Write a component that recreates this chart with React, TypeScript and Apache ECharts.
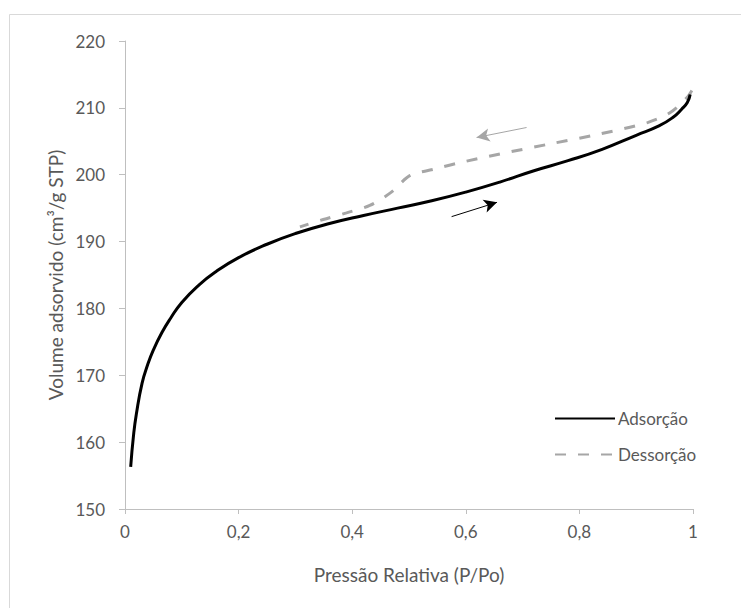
import React, { useEffect, useRef } from "react";
import * as echarts from "echarts";

// Adsorption branch (P/Po, volume)
const adsX = [0.01, 0.015, 0.02, 0.03, 0.04, 0.05, 0.065, 0.08, 0.1, 0.13, 0.16, 0.2, 0.25, 0.3, 0.36, 0.42, 0.48, 0.54, 0.6, 0.66, 0.72, 0.78, 0.84, 0.9, 0.94, 0.965, 0.98, 0.99, 0.995];
const adsY = [156.3, 161.0, 164.2, 168.8, 171.6, 173.8, 176.4, 178.5, 180.9, 183.5, 185.5, 187.6, 189.6, 191.2, 192.7, 193.9, 195.0, 196.1, 197.4, 198.9, 200.6, 202.1, 203.8, 205.9, 207.3, 208.6, 209.8, 210.8, 212.0];

// Desorption branch
const desX = [0.998, 0.989, 0.96, 0.92, 0.836, 0.748, 0.66, 0.584, 0.543, 0.502, 0.469, 0.431, 0.39, 0.349, 0.308];
const desY = [212.6, 211.5, 209.3, 207.8, 206.1, 204.6, 203.1, 201.7, 200.8, 199.9, 197.4, 195.4, 194.3, 193.3, 192.2];

// Direction arrows [x1, y1, x2, y2]
const arrowDes = [0.707, 207.06, 0.619, 205.57];
const arrowAds = [0.575, 193.73, 0.655, 195.87];

const yTicks = { min: 150, max: 220, interval: 10 };
const xTicks = { min: 0, max: 1, interval: 0.2 };

const seriesNames = ["Adsorção", "Dessorção"];
const FONT = "Lato, 'Open Sans', sans-serif";

export default function App() {
  const ref = useRef<HTMLDivElement>(null);
  useEffect(() => {
    if (!ref.current) return;
    const chart = echarts.init(ref.current, null, { renderer: "svg" });
    const axisColor = "#bfbfbf";
    const textColor = "#595959";
    chart.setOption({
      animation: false,
      backgroundColor: "#ffffff",
      textStyle: { fontFamily: FONT },
      graphic: [
        {
          type: "rect",
          shape: { x: 9.5, y: 14.5, width: 800, height: 700 },
          style: { fill: "none", stroke: "#d9d9d9", lineWidth: 1 },
          silent: true,
          z: -1,
        },
      ],
      grid: { left: 125, right: 48, top: 41, bottom: 99 },
      legend: {
        orient: "vertical",
        left: 549,
        top: 405,
        itemWidth: 60,
        itemHeight: 14,
        itemGap: 19,
        itemStyle: { opacity: 0 },
        textStyle: { color: textColor, fontSize: 17, fontFamily: FONT, padding: [0, 0, 0, -2] },
        data: seriesNames,
      },
      xAxis: {
        type: "value",
        min: xTicks.min,
        max: xTicks.max,
        interval: xTicks.interval,
        name: "Pressão Relativa (P/Po)",
        nameLocation: "middle",
        nameGap: 56,
        nameTextStyle: { color: textColor, fontSize: 19, fontFamily: FONT },
        axisLine: { show: true, lineStyle: { color: axisColor, width: 1 } },
        axisTick: { show: true, length: 5, lineStyle: { color: axisColor } },
        splitLine: { show: false },
        axisLabel: {
          color: textColor,
          fontSize: 17,
          fontFamily: FONT,
          margin: 14,
          formatter: (v: number) => String(Math.round(v * 10) / 10).replace(".", ","),
        },
      },
      yAxis: {
        type: "value",
        min: yTicks.min,
        max: yTicks.max,
        interval: yTicks.interval,
        name: "Volume adsorvido (cm³/g STP)",
        nameLocation: "middle",
        nameGap: 60,
        nameTextStyle: { color: textColor, fontSize: 19, fontFamily: FONT },
        axisLine: { show: true, lineStyle: { color: axisColor, width: 1 } },
        axisTick: { show: true, length: 6, lineStyle: { color: axisColor } },
        splitLine: { show: false },
        axisLabel: { color: textColor, fontSize: 17, fontFamily: FONT, margin: 20 },
      },
      series: [
        {
          name: seriesNames[0],
          type: "line",
          data: adsX.map((x, i) => [x, adsY[i]]),
          smooth: 0.5,
          symbol: "none",
          lineStyle: { color: "#000000", width: 3 },
          itemStyle: { color: "#000000" },
          z: 3,
          markLine: {
            silent: true,
            symbol: ["none", "arrow"],
            symbolSize: [10, 13],
            label: { show: false },
            lineStyle: { color: "#000000", width: 1, type: "solid" },
            data: [
              [
                { coord: [arrowAds[0], arrowAds[1]] },
                { coord: [arrowAds[2], arrowAds[3]] },
              ],
            ],
          },
        },
        {
          name: seriesNames[1],
          type: "line",
          data: desX.map((x, i) => [x, desY[i]]),
          smooth: 0.3,
          symbol: "none",
          lineStyle: { color: "#a6a6a6", width: 3, type: [11, 12] },
          itemStyle: { color: "#a6a6a6" },
          z: 2,
          markLine: {
            silent: true,
            symbol: ["none", "arrow"],
            symbolSize: [10, 13],
            label: { show: false },
            lineStyle: { color: "#a6a6a6", width: 1, type: "solid" },
            data: [
              [
                { coord: [arrowDes[0], arrowDes[1]] },
                { coord: [arrowDes[2], arrowDes[3]] },
              ],
            ],
          },
        },
      ],
    });
    return () => chart.dispose();
  }, []);
  return (
    <div
      ref={ref}
      style={{ position: "fixed", left: 0, top: 0, width: 741, height: 608 }}
    />
  );
}
